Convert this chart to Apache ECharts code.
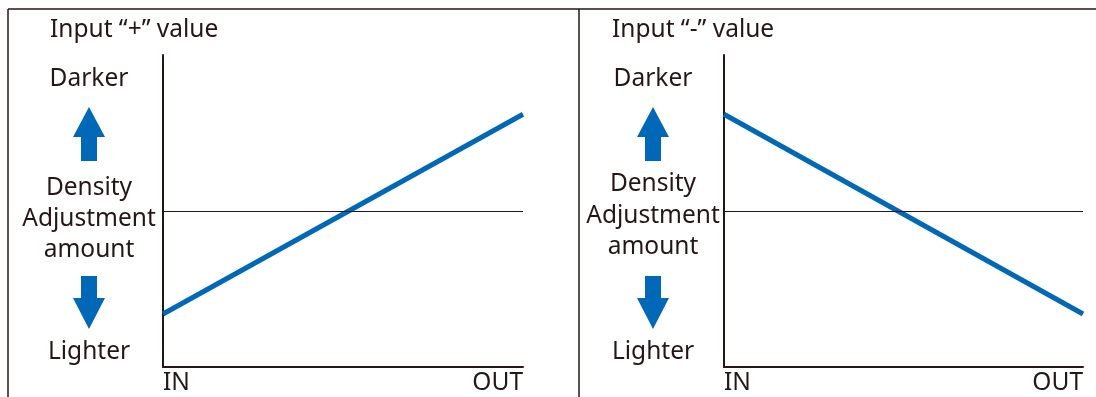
<!DOCTYPE html>
<html>
<head>
<meta charset="utf-8">
<script src="https://cdn.jsdelivr.net/npm/echarts@6/dist/echarts.min.js"></script>
<style>
  html, body { margin: 0; padding: 0; background: #ffffff; }
  #chart { width: 1096px; height: 397px; }
</style>
</head>
<body>
<div id="chart"></div>
<script>
// Input position along the process (0 = IN, 100 = OUT)
const positions = [0, 100];
const positionLabels = ['IN', 'OUT'];
// Density adjustment amount at IN and OUT for each input sign
const plusValues = [17, 81];
const minusValues = [81, 17];
const neutralLevel = 50;
const panelTitles = ['Input \u201c+\u201d value', 'Input \u201c-\u201d value'];
const sideLabels = ['Darker', 'Density', 'Adjustment', 'amount', 'Lighter'];

const INK = '#231815';
const BLUE = '#0068b7';
const FONT = '"Noto Sans", sans-serif';
const FS = 24.5;

const chart = echarts.init(document.getElementById('chart'), null, { renderer: 'canvas' });

function pairs(values) {
  return positions.map((p, i) => [p, values[i]]);
}

const grids = [
  { left: 163, top: 55, width: 360, bottom: 30 },
  { left: 724, top: 55, width: 359, bottom: 30 }
];

function xAxisFor(gridIndex) {
  return {
    type: 'value', gridIndex, min: 0, max: 100, interval: 100,
    axisLine: { show: true, lineStyle: { color: INK, width: 2 } },
    axisTick: { show: false },
    splitLine: { show: false },
    axisLabel: {
      show: true, color: INK, fontFamily: FONT, fontSize: FS, margin: 4,
      alignMinLabel: 'left', alignMaxLabel: 'right',
      formatter: v => v === 0 ? positionLabels[0] : positionLabels[1]
    }
  };
}
function yAxisFor(gridIndex) {
  return {
    type: 'value', gridIndex, min: 0, max: 100,
    axisLine: { show: true, onZero: false, lineStyle: { color: INK, width: 2 } },
    axisTick: { show: false },
    axisLabel: { show: false },
    splitLine: { show: false }
  };
}

function lineSeries(values, idx) {
  return {
    type: 'line', xAxisIndex: idx, yAxisIndex: idx,
    data: pairs(values), symbol: 'none', silent: true,
    lineStyle: { color: BLUE, width: 5, cap: 'butt' },
    markLine: {
      silent: true, symbol: 'none', label: { show: false },
      lineStyle: { color: INK, width: 1, type: 'solid' },
      data: [{ yAxis: neutralLevel }]
    },
    z: 3
  };
}

function text(str, x, y, align) {
  return {
    type: 'text', x, y,
    style: { text: str, fill: INK, font: FS + 'px ' + FONT, textAlign: align || 'center', textVerticalAlign: 'middle' }
  };
}

// Side annotations (Darker / Density Adjustment amount / Lighter) and arrows
function sidePanel(cx, midYs) {
  const up = {
    type: 'polygon',
    shape: { points: [[cx, 107], [cx + 16, 137], [cx + 8, 137], [cx + 8, 161], [cx - 8, 161], [cx - 8, 137], [cx - 16, 137]] },
    style: { fill: BLUE }
  };
  const down = {
    type: 'polygon',
    shape: { points: [[cx - 8, 276], [cx + 8, 276], [cx + 8, 298], [cx + 16, 298], [cx, 329], [cx - 16, 298], [cx - 8, 298]] },
    style: { fill: BLUE }
  };
  return [
    text(sideLabels[0], cx, 79),
    text(sideLabels[1], cx, midYs[0]),
    text(sideLabels[2], cx, midYs[1]),
    text(sideLabels[3], cx, midYs[2]),
    text(sideLabels[4], cx, 352),
    up, down
  ];
}

const frame = [
  { type: 'line', shape: { x1: 8, y1: 9, x2: 1096, y2: 9 }, style: { stroke: INK, lineWidth: 1.5 } },
  { type: 'line', shape: { x1: 8, y1: 9, x2: 8, y2: 397 }, style: { stroke: INK, lineWidth: 1.5 } },
  { type: 'line', shape: { x1: 579, y1: 9, x2: 579, y2: 397 }, style: { stroke: INK, lineWidth: 1.5 } }
];

chart.setOption({
  animation: false,
  backgroundColor: '#ffffff',
  grid: grids,
  xAxis: [xAxisFor(0), xAxisFor(1)],
  yAxis: [yAxisFor(0), yAxisFor(1)],
  series: [lineSeries(plusValues, 0), lineSeries(minusValues, 1)],
  graphic: [].concat(
    frame,
    text(panelTitles[0], 50, 30, 'left'),
    text(panelTitles[1], 612, 30, 'left'),
    sidePanel(89, [188, 219, 250]),
    sidePanel(653, [184, 216, 247])
  )
});
</script>
</body>
</html>
